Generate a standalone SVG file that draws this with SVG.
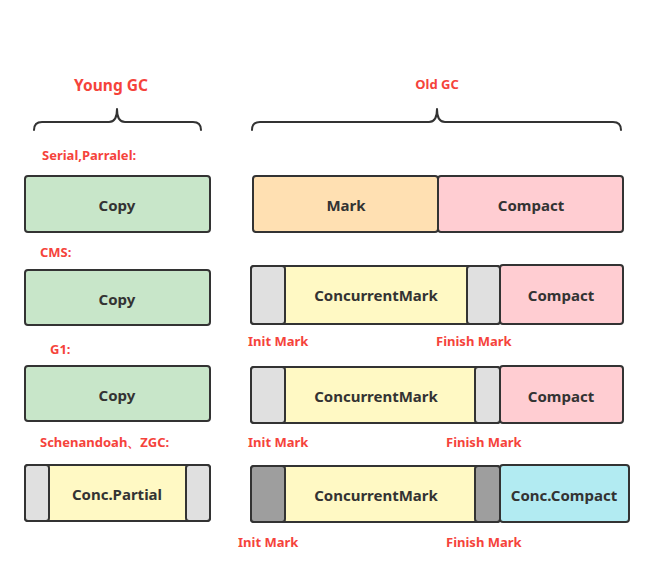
<svg xmlns="http://www.w3.org/2000/svg" width="655" height="575" viewBox="0 0 655 575">
<style>
.box{stroke:#333;stroke-width:2}
.t{font-family:"Noto Sans","Open Sans","DejaVu Sans",sans-serif;font-weight:bold;font-size:15px;fill:#333;text-anchor:middle}
.r{font-family:"Noto Sans","Open Sans","DejaVu Sans",sans-serif;font-weight:bold;font-size:13px;fill:#f5433b}
.brace{fill:none;stroke:#333;stroke-width:2;stroke-linecap:round;stroke-linejoin:round}
.g{fill:#c8e6c9}.o{fill:#ffe0b2}.p{fill:#ffcdd2}.y{fill:#fff9c4}.l{fill:#e0e0e0}.d{fill:#9e9e9e}.c{fill:#b2ebf2}
</style>
<rect width="655" height="575" fill="#fff"/>
<g id="headers">
<text class="r" x="111" y="91" text-anchor="middle" style="font-size:15.5px">Young GC</text>
<text class="r" x="437" y="89" text-anchor="middle">Old GC</text>
<path class="brace" d="M34,130 Q34,122 42,122 L109,122 Q117,122 117,109 Q117,122 125,122 L193,122 Q201,122 201,130"/>
<path class="brace" d="M252,130 Q252,122 260,122 L429,122 Q437,122 437,109 Q437,122 445,122 L613,122 Q621,122 621,130"/>
<text class="r" x="42" y="160" style="font-size:13px">Serial,Parralel:</text>
<text class="r" x="40" y="257">CMS:</text>
<text class="r" x="50" y="354">G1:</text>
<text class="r" x="40" y="447">Schenandoah、ZGC:</text>
</g>
<g id="row1-young">
<rect class="box g" x="25" y="176" width="185" height="56" rx="3"/>
<text class="t" x="117" y="211">Copy</text>
</g>
<g id="row1-mark">
<rect class="box o" x="253" y="176" width="185" height="56" rx="3"/>
<text class="t" x="346" y="211">Mark</text>
</g>
<g id="row1-compact">
<rect class="box p" x="438" y="176" width="185" height="56" rx="3"/>
<text class="t" x="531" y="211">Compact</text>
</g>
<g id="row2-young">
<rect class="box g" x="25" y="270" width="185" height="55" rx="3"/>
<text class="t" x="117" y="305">Copy</text>
</g>
<g id="row2-mark">
<rect class="box y" x="251" y="266" width="249" height="58" rx="3"/>
<rect class="box l" x="251" y="266" width="34" height="58" rx="3"/>
<rect class="box l" x="467" y="266" width="33" height="58" rx="3"/>
<text class="t" x="376" y="301">ConcurrentMark</text>
<text class="r" x="248" y="346">Init Mark</text>
<text class="r" x="436" y="346">Finish Mark</text>
</g>
<g id="row2-compact">
<rect class="box p" x="500" y="265" width="123" height="59" rx="3"/>
<text class="t" x="561" y="301">Compact</text>
</g>
<g id="row3-young">
<rect class="box g" x="25" y="366" width="185" height="55" rx="3"/>
<text class="t" x="117" y="401">Copy</text>
</g>
<g id="row3-mark">
<rect class="box y" x="251" y="367" width="249" height="56" rx="3"/>
<rect class="box l" x="251" y="367" width="34" height="56" rx="3"/>
<rect class="box l" x="475" y="367" width="25" height="56" rx="3"/>
<text class="t" x="376" y="402">ConcurrentMark</text>
<text class="r" x="248" y="447">Init Mark</text>
<text class="r" x="446" y="447">Finish Mark</text>
</g>
<g id="row3-compact">
<rect class="box p" x="500" y="366" width="123" height="57" rx="3"/>
<text class="t" x="561" y="402">Compact</text>
</g>
<g id="row4-young">
<rect class="box y" x="25" y="465" width="185" height="56" rx="3"/>
<rect class="box l" x="25" y="465" width="24" height="56" rx="3"/>
<rect class="box l" x="186" y="465" width="24" height="56" rx="3"/>
<text class="t" x="117" y="500">Conc.Partial</text>
</g>
<g id="row4-mark">
<rect class="box y" x="251" y="466" width="249" height="56" rx="3"/>
<rect class="box d" x="251" y="466" width="34" height="56" rx="3"/>
<rect class="box d" x="475" y="466" width="25" height="56" rx="3"/>
<text class="t" x="376" y="501">ConcurrentMark</text>
<text class="r" x="238" y="547">Init Mark</text>
<text class="r" x="446" y="547">Finish Mark</text>
</g>
<g id="row4-compact">
<rect class="box c" x="500" y="465" width="129" height="57" rx="3"/>
<text class="t" x="564" y="501">Conc.Compact</text>
</g>
<g id="connectors"/>
</svg>
